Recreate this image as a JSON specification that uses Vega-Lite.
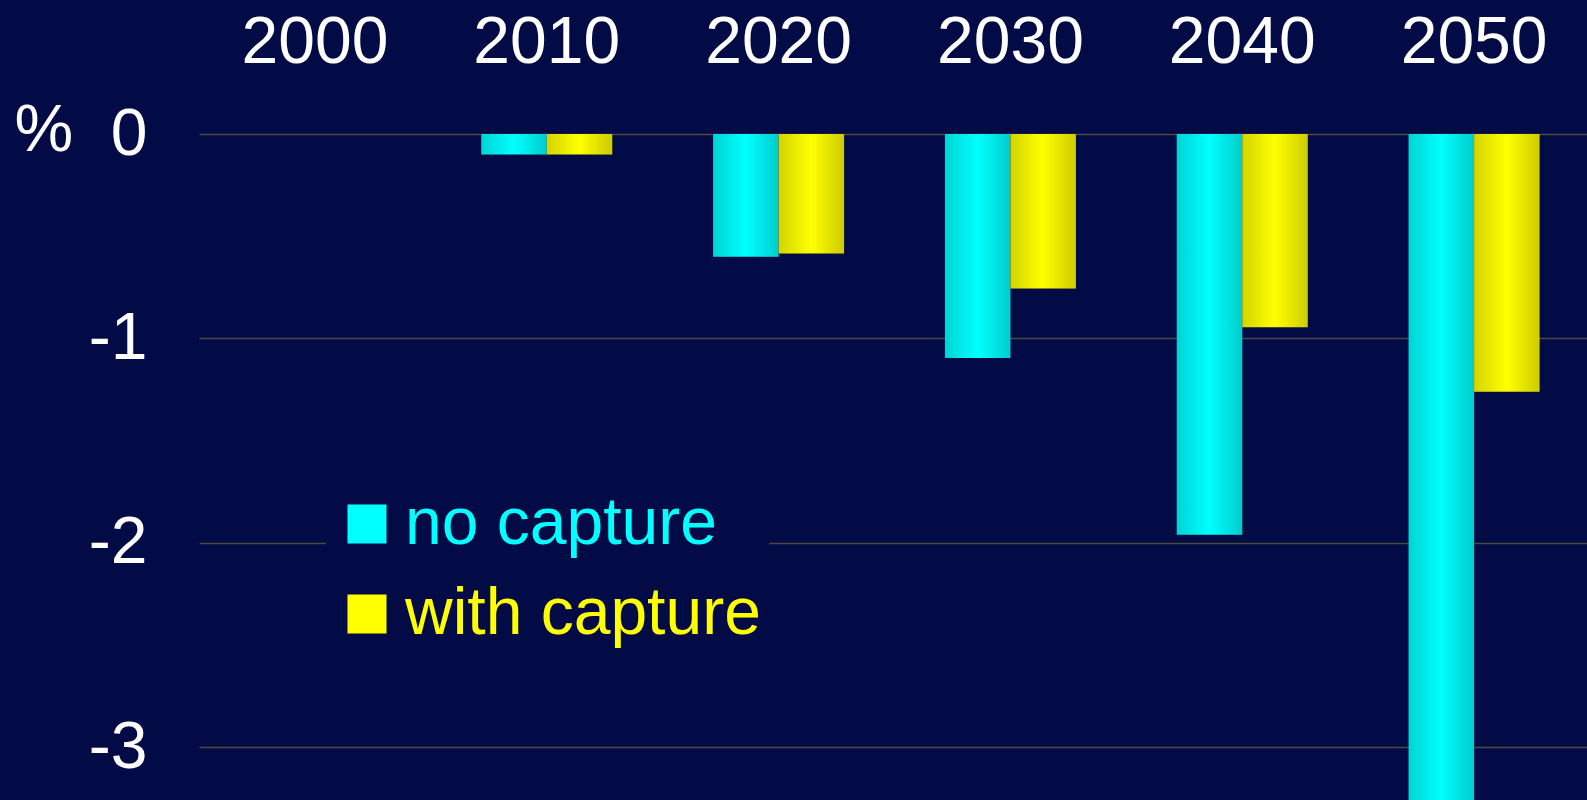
{
  "$schema": "https://vega.github.io/schema/vega-lite/v6.json",
  "autosize": {"type": "none"},
  "width": 1391,
  "height": 666,
  "padding": {"left": 199, "top": 134, "right": 0, "bottom": 0},
  "background": "#020b45",
  "config": {
    "font": "Liberation Sans",
    "view": {"stroke": null}
  },
  "data": {
    "values": [
      {"year": "2010", "series": "no capture", "value": -0.1},
      {"year": "2010", "series": "with capture", "value": -0.1},
      {"year": "2020", "series": "no capture", "value": -0.6},
      {"year": "2020", "series": "with capture", "value": -0.585},
      {"year": "2030", "series": "no capture", "value": -1.095},
      {"year": "2030", "series": "with capture", "value": -0.755},
      {"year": "2040", "series": "no capture", "value": -1.96},
      {"year": "2040", "series": "with capture", "value": -0.945},
      {"year": "2050", "series": "no capture", "value": -3.4},
      {"year": "2050", "series": "with capture", "value": -1.26}
    ]
  },
  "encoding": {
    "x": {
      "field": "year",
      "type": "nominal",
      "scale": {"domain": ["2000", "2010", "2020", "2030", "2040", "2050"], "paddingInner": 0.435, "paddingOuter": 0.2175},
      "axis": {
        "orient": "top",
        "title": null,
        "labelAngle": 0,
        "labelFontSize": 66,
        "labelColor": "#ffffff",
        "labelPadding": 58,
        "domain": false,
        "ticks": false,
        "grid": false
      }
    },
    "xOffset": {
      "field": "series",
      "type": "nominal",
      "scale": {"domain": ["no capture", "with capture"], "paddingInner": 0, "paddingOuter": 0}
    },
    "y": {
      "field": "value",
      "type": "quantitative",
      "scale": {"domain": [-3.257, 0], "nice": false, "zero": false},
      "axis": {
        "values": [0, -1, -2, -3],
        "labelExpr": "'' + datum.value",
        "labelFontSize": 66,
        "labelColor": "#ffffff",
        "labelPadding": 52,
        "domain": false,
        "ticks": false,
        "grid": true,
        "gridColor": "#4a4a42",
        "gridWidth": 1.5,
        "title": "%",
        "titleAngle": 0,
        "titleX": -185,
        "titleY": 16,
        "titleAlign": "left",
        "titleBaseline": "alphabetic",
        "titleFontSize": 66,
        "titleFontWeight": "normal",
        "titleColor": "#ffffff"
      }
    }
  },
  "layer": [
    {
      "mark": {"type": "bar", "clip": true, "strokeWidth": 0},
      "encoding": {
        "color": {
          "field": "series",
          "type": "nominal",
          "scale": {"domain": ["no capture", "with capture"], "range": ["#00ffff", "#ffff00"]},
          "legend": {
            "title": null,
            "orient": "none",
            "legendX": 127,
            "legendY": 349,
            "fillColor": "#020b45",
            "padding": 8,
            "symbolType": "square",
            "symbolSize": 1521,
            "symbolStrokeWidth": 0,
            "symbolOpacity": 1,
            "labelFontSize": 66,
            "labelOffset": 5,
            "labelLimit": 600,
            "rowPadding": 24,
            "labelExpr": "datum.label",
            "encode": {
              "labels": {
                "update": {
                  "fill": {"signal": "datum.value === 'no capture' ? '#00ffff' : '#ffff00'"}
                }
              }
            }
          }
        }
      }
    },
    {
      "mark": {
        "type": "bar",
        "clip": true,
        "strokeWidth": 0,
        "fill": {
          "gradient": "linear",
          "x1": 0, "y1": 0, "x2": 1, "y2": 0,
          "stops": [
            {"offset": 0, "color": "rgba(0,0,0,0.17)"},
            {"offset": 0.5, "color": "rgba(0,0,0,0)"},
            {"offset": 1, "color": "rgba(0,0,0,0.2)"}
          ]
        }
      },
      "encoding": {}
    }
  ]
}
